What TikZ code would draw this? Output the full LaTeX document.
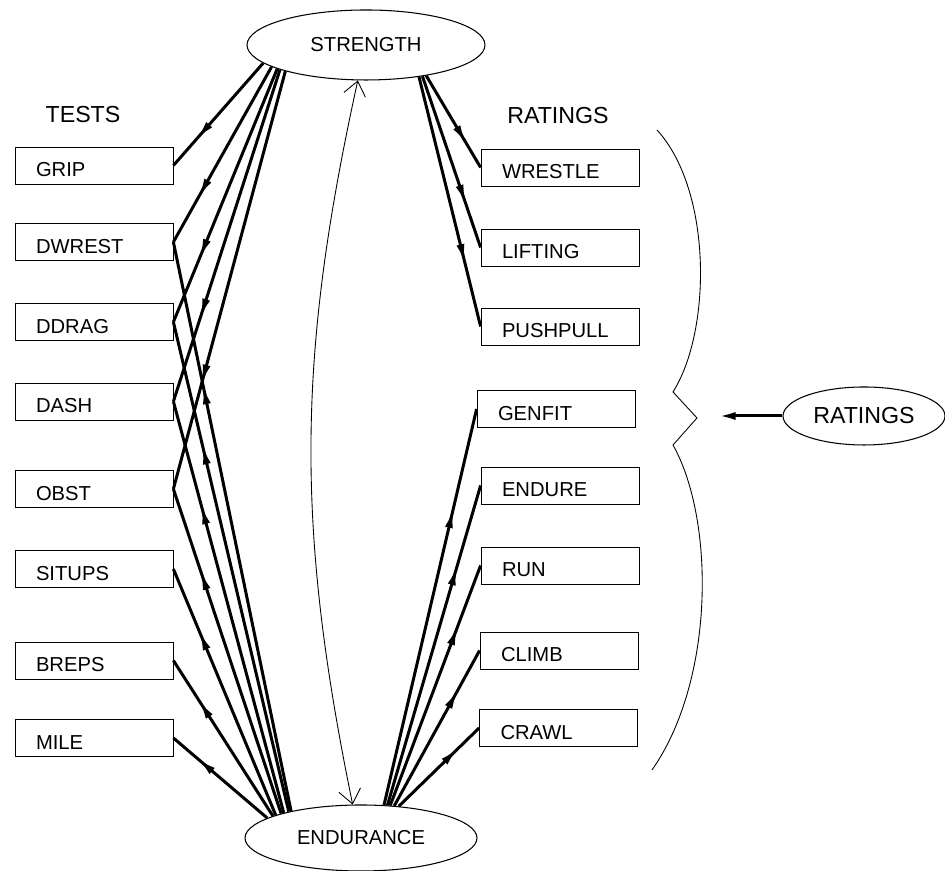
\documentclass[tikz,border=0pt]{standalone}
\usepackage{fontspec}
\setmainfont{Liberation Sans}
\usetikzlibrary{arrows.meta,decorations.markings,shapes.geometric}

\begin{document}
\begin{tikzpicture}[
    every node/.style={font=\fontsize{11.5}{13}\selectfont},
    factor/.style={draw, ellipse, inner sep=0pt, line width=0.6pt},
    heading/.style={font=\fontsize{13.2}{15}\selectfont},
    measure/.style={draw, rectangle, line width=0.45pt, minimum height=0.74cm,
        inner ysep=0pt, inner xsep=0.42cm, text width=2.32cm, align=left,
        text height=0.45cm, text depth=0pt},
    load/.style={line width=1.7pt, postaction={decorate},
        decoration={markings, mark=at position 0.75 with {\arrow{Latex[length=4mm,width=1.6mm]}}}},
    corr/.style={line width=0.5pt,
        {Straight Barb[length=2.8mm,width=4.4mm]}-{Straight Barb[length=2.8mm,width=4.4mm]}}
]
\useasboundingbox (0,0) rectangle (18.9,17.42);

% factors
\node[factor, minimum width=4.76cm, minimum height=1.40cm] (S) at (7.32,16.52) {STRENGTH};
\node[factor, minimum width=4.64cm, minimum height=1.32cm] (E) at (7.22,0.66) {ENDURANCE};
\node[factor, heading, minimum width=3.24cm, minimum height=1.16cm] (R) at (17.28,9.10) {RATINGS};

% headings
\node[heading] (tests) at (1.66,15.12) {TESTS};
\node[heading] (ratings) at (11.16,15.10) {RATINGS};

% tests
\node[measure] (grip)   at (1.88,14.11) {GRIP};
\node[measure] (dwrest) at (1.88,12.58) {DWREST};
\node[measure] (ddrag)  at (1.88,10.98) {DDRAG};
\node[measure] (dash)   at (1.88,9.39)  {DASH};
\node[measure] (obst)   at (1.88,7.64)  {OBST};
\node[measure] (situps) at (1.88,6.04)  {SITUPS};
\node[measure] (breps)  at (1.88,4.21)  {BREPS};
\node[measure] (mile)   at (1.88,2.66)  {MILE};

% ratings
\node[measure] (wrestle)  at (11.20,14.07) {WRESTLE};
\node[measure] (lifting)  at (11.20,12.47) {LIFTING};
\node[measure] (pushpull) at (11.20,10.89) {PUSHPULL};
\node[measure] (genfit)   at (11.12,9.24)  {GENFIT};
\node[measure] (endure)   at (11.20,7.71)  {ENDURE};
\node[measure] (run)      at (11.20,6.11)  {RUN};
\node[measure] (climb)    at (11.18,4.41)  {CLIMB};
\node[measure] (crawl)    at (11.17,2.86)  {CRAWL};

% strength loadings
\draw[load] (S.190) -- (grip.east);
\draw[load] (S.193) -- (dwrest.east);
\draw[load] (S.195) -- (ddrag.east);
\draw[load] (S.196.5) -- (dash.east);
\draw[load] (S.198) -- (obst.east);
\draw[load] (S.333) -- (wrestle.west);
\draw[load] (S.331) -- (lifting.west);
\draw[load] (S.329) -- (pushpull.west);

% endurance loadings
\draw[load] (E.159) -- (dwrest.east);
\draw[load] (E.160.5) -- (ddrag.east);
\draw[load] (E.162) -- (dash.east);
\draw[load] (E.163.5) -- (obst.east);
\draw[load] (E.165) -- (situps.east);
\draw[load] (E.166.5) -- (breps.east);
\draw[load] (E.168) -- (mile.east);
\draw[load] (E.55) -- (genfit.west);
\draw[load] (E.51) -- (endure.west);
\draw[load] (E.48) -- (run.west);
\draw[load] (E.44) -- (climb.west);
\draw[load] (E.40) -- (crawl.west);

% factor correlation
\draw[corr] (S.257) to[bend right=12] (E.104);

% brace round the ratings
\draw[line width=0.5pt] (13.14,14.82) .. controls (14.24,13.62) and (14.24,10.82) .. (13.46,9.58)
    -- (13.94,9.06) -- (13.46,8.52)
    .. controls (14.30,7.02) and (14.30,3.82) .. (13.04,2.02);
\coordinate (rtip) at (14.36,9.10);
\draw[line width=1.7pt, -{Latex[length=3.5mm,width=1.6mm]}] (R.west) -- (rtip);
\end{tikzpicture}
\end{document}
